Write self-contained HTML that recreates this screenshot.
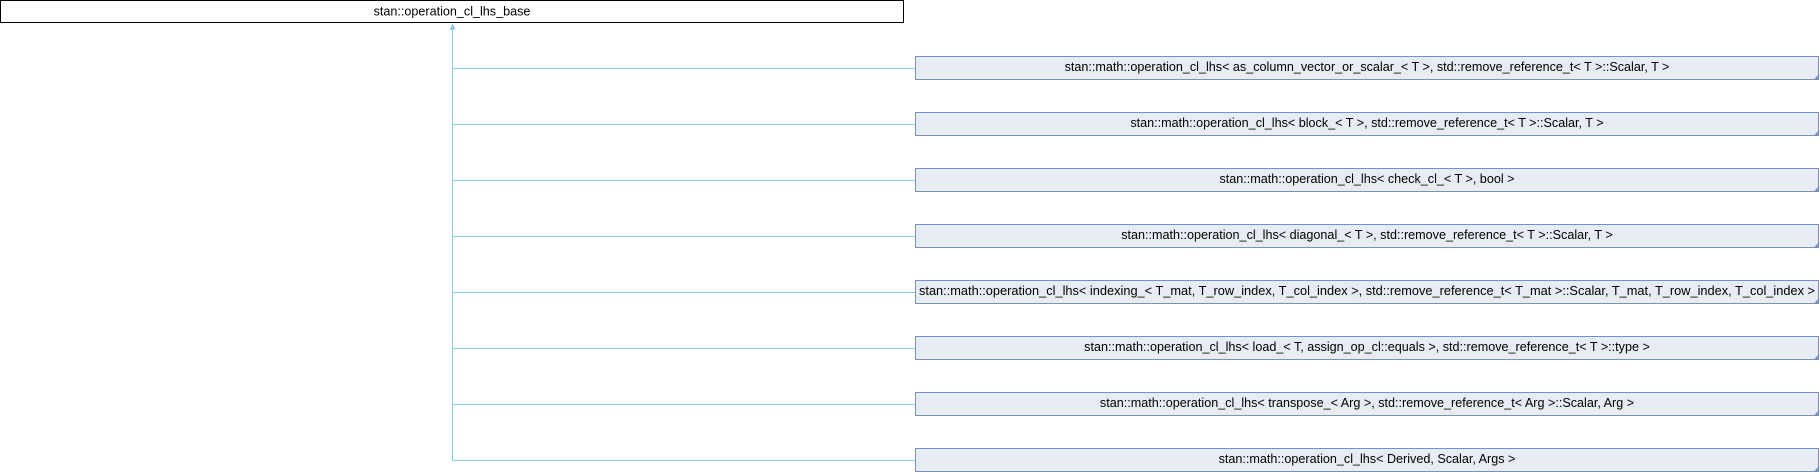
<!DOCTYPE html>
<html>
<head>
<meta charset="utf-8">
<style>
html,body{margin:0;padding:0;background:#fff;}
svg{display:block;}
text{font-family:"Liberation Sans",Arial,sans-serif;font-size:12.6px;fill:#000;}
</style>
</head>
<body>
<svg width="1820" height="472" viewBox="0 0 1820 472" xmlns="http://www.w3.org/2000/svg">
  <!-- base box -->
  <rect x="0.5" y="0.5" width="903" height="22" fill="#ffffff" stroke="#000000" stroke-width="1" shape-rendering="crispEdges"/>
  <text x="452" y="15.5" text-anchor="middle">stan::operation_cl_lhs_base</text>

  <!-- connectors -->
  <g stroke="#8ec8e8" stroke-width="1" shape-rendering="crispEdges" fill="none">
    <line x1="452.5" y1="27" x2="452.5" y2="460.5"/>
    <line x1="452.5" y1="68.5" x2="915" y2="68.5"/>
    <line x1="452.5" y1="124.5" x2="915" y2="124.5"/>
    <line x1="452.5" y1="180.5" x2="915" y2="180.5"/>
    <line x1="452.5" y1="236.5" x2="915" y2="236.5"/>
    <line x1="452.5" y1="292.5" x2="915" y2="292.5"/>
    <line x1="452.5" y1="348.5" x2="915" y2="348.5"/>
    <line x1="452.5" y1="404.5" x2="915" y2="404.5"/>
    <line x1="452.5" y1="460.5" x2="915" y2="460.5"/>
  </g>
  <polygon points="452.5,24 450,29.5 455,29.5" fill="#8ec8e8" stroke="#8ec8e8" stroke-width="0.6"/>

  <!-- child boxes -->
  <g fill="#e7ebf4" stroke="#7a8fc6" stroke-width="1" shape-rendering="crispEdges">
    <rect x="915.5" y="56.5" width="903" height="23"/>
    <rect x="915.5" y="112.5" width="903" height="23"/>
    <rect x="915.5" y="168.5" width="903" height="23"/>
    <rect x="915.5" y="224.5" width="903" height="23"/>
    <rect x="915.5" y="280.5" width="903" height="23"/>
    <rect x="915.5" y="336.5" width="903" height="23"/>
    <rect x="915.5" y="392.5" width="903" height="23"/>
    <rect x="915.5" y="448.5" width="903" height="23"/>
  </g>
  <!-- folded corners -->
  <g fill="#7a8fc6" shape-rendering="crispEdges">
    <polygon points="1819,74 1819,80 1813,80"/>
    <polygon points="1819,130 1819,136 1813,136"/>
    <polygon points="1819,186 1819,192 1813,192"/>
    <polygon points="1819,242 1819,248 1813,248"/>
    <polygon points="1819,298 1819,304 1813,304"/>
    <polygon points="1819,354 1819,360 1813,360"/>
    <polygon points="1819,410 1819,416 1813,416"/>
    <polygon points="1819,466 1819,472 1813,472"/>
  </g>

  <g text-anchor="middle">
    <text x="1367" y="71">stan::math::operation_cl_lhs&lt; as_column_vector_or_scalar_&lt; T &gt;, std::remove_reference_t&lt; T &gt;::Scalar, T &gt;</text>
    <text x="1367" y="127">stan::math::operation_cl_lhs&lt; block_&lt; T &gt;, std::remove_reference_t&lt; T &gt;::Scalar, T &gt;</text>
    <text x="1367" y="183">stan::math::operation_cl_lhs&lt; check_cl_&lt; T &gt;, bool &gt;</text>
    <text x="1367" y="239">stan::math::operation_cl_lhs&lt; diagonal_&lt; T &gt;, std::remove_reference_t&lt; T &gt;::Scalar, T &gt;</text>
    <text x="1367" y="295" textLength="896" lengthAdjust="spacingAndGlyphs">stan::math::operation_cl_lhs&lt; indexing_&lt; T_mat, T_row_index, T_col_index &gt;, std::remove_reference_t&lt; T_mat &gt;::Scalar, T_mat, T_row_index, T_col_index &gt;</text>
    <text x="1367" y="351">stan::math::operation_cl_lhs&lt; load_&lt; T, assign_op_cl::equals &gt;, std::remove_reference_t&lt; T &gt;::type &gt;</text>
    <text x="1367" y="407">stan::math::operation_cl_lhs&lt; transpose_&lt; Arg &gt;, std::remove_reference_t&lt; Arg &gt;::Scalar, Arg &gt;</text>
    <text x="1367" y="463">stan::math::operation_cl_lhs&lt; Derived, Scalar, Args &gt;</text>
  </g>
</svg>
</body>
</html>
